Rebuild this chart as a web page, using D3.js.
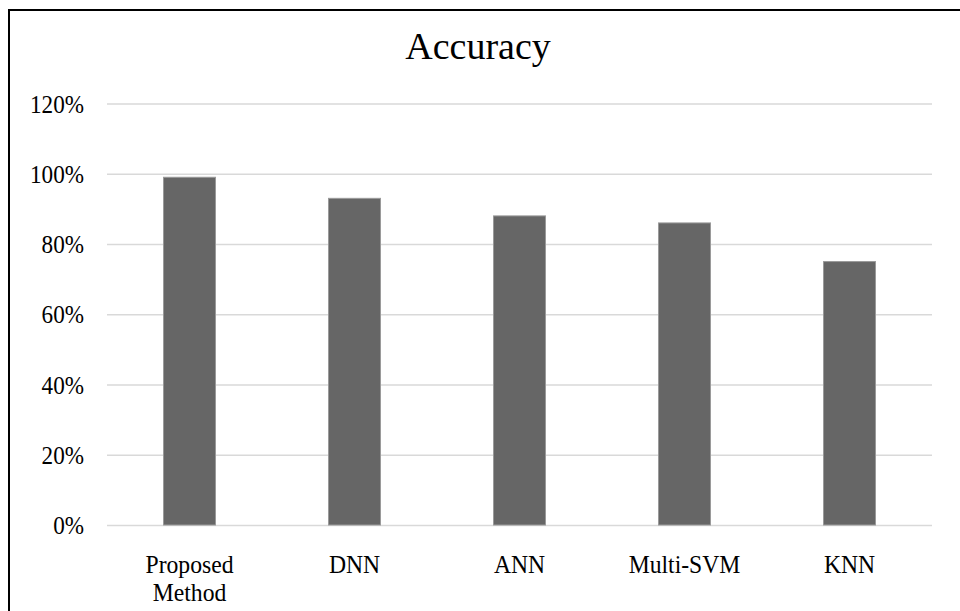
<!DOCTYPE html>
<html>
<head>
<meta charset="utf-8">
<script src="https://cdn.jsdelivr.net/npm/d3@7"></script>
<style>
  html, body { margin: 0; padding: 0; background: #fff; }
  svg { display: block; }
  text { font-family: "Liberation Serif", "Times New Roman", serif; fill: #000; }
</style>
</head>
<body>
<script>
// Accuracy per method (percent)
const categories = ["Proposed Method", "DNN", "ANN", "Multi-SVM", "KNN"];
const accuracy = [99, 93, 88, 86, 75];
const yTicks = [0, 20, 40, 60, 80, 100, 120];
const title = "Accuracy";

const width = 960, height = 611;
const margin = { top: 103.5, right: 28, bottom: 86, left: 107 };

const svg = d3.select("body").append("svg")
  .attr("width", width)
  .attr("height", height);

svg.append("rect").attr("width", width).attr("height", height).attr("fill", "#fff");

// Frame: top and left edges
svg.append("line")
  .attr("x1", 9).attr("x2", width + 5).attr("y1", 10).attr("y2", 10)
  .attr("stroke", "#000").attr("stroke-width", 2);
svg.append("line")
  .attr("x1", 9).attr("x2", 9).attr("y1", 9).attr("y2", height + 5)
  .attr("stroke", "#000").attr("stroke-width", 2);

const x = d3.scaleBand()
  .domain(categories)
  .range([margin.left, width - margin.right])
  .paddingInner(0.685)
  .paddingOuter(0.3425);

const y = d3.scaleLinear()
  .domain([0, 120])
  .range([height - margin.bottom, margin.top]);

// Gridlines
const grid = svg.append("g")
  .attr("transform", `translate(${margin.left},0)`)
  .call(d3.axisLeft(y).tickValues(yTicks).tickSize(-(width - margin.right - margin.left)).tickFormat(""));
grid.select(".domain").remove();
grid.selectAll(".tick line").attr("stroke", "#d9d9d9").attr("stroke-width", 1.5);

// Y axis labels (narrow serif face)
const yAxis = svg.append("g")
  .attr("transform", `translate(${margin.left - 23},0)`)
  .call(d3.axisLeft(y).tickValues(yTicks).tickSize(0).tickPadding(0).tickFormat(d => d + "%"));
yAxis.select(".domain").remove();
yAxis.selectAll(".tick text")
  .attr("font-family", "Liberation Serif, serif")
  .attr("font-size", 26)
  .attr("fill", "#222")
  .attr("x", 0)
  .attr("dy", "0.33em")
  .attr("transform", "scale(0.89,1)");

// Bars
svg.append("g").selectAll("rect")
  .data(categories.map((c, i) => ({ c, v: accuracy[i] })))
  .join("rect")
  .attr("x", d => x(d.c))
  .attr("width", x.bandwidth())
  .attr("y", d => y(d.v))
  .attr("height", d => y(0) - y(d.v))
  .attr("fill", "#666666")
  .attr("stroke", "#9a9a9a")
  .attr("stroke-width", 1);

// X axis labels (wrapped at spaces)
const xAxis = svg.append("g")
  .attr("transform", `translate(0,${y(0)})`)
  .call(d3.axisBottom(x).tickSize(0).tickFormat(""));
xAxis.select(".domain").remove();
xAxis.selectAll(".tick").each(function(d) {
  const words = d.split(" ");
  const t = d3.select(this).append("text")
    .attr("text-anchor", "middle")
    .attr("font-family", "Liberation Serif, serif")
    .attr("font-size", 26)
    .attr("fill", "#111")
    .attr("transform", "scale(0.91,1)");
  words.forEach((w, i) => {
    t.append("tspan").attr("x", 0).attr("y", 48 + i * 28.5).text(w);
  });
});

// Title
svg.append("text")
  .attr("x", 478)
  .attr("y", 59)
  .attr("text-anchor", "middle")
  .attr("font-size", 38)
  .attr("fill", "#111")
  .text(title);
</script>
</body>
</html>
